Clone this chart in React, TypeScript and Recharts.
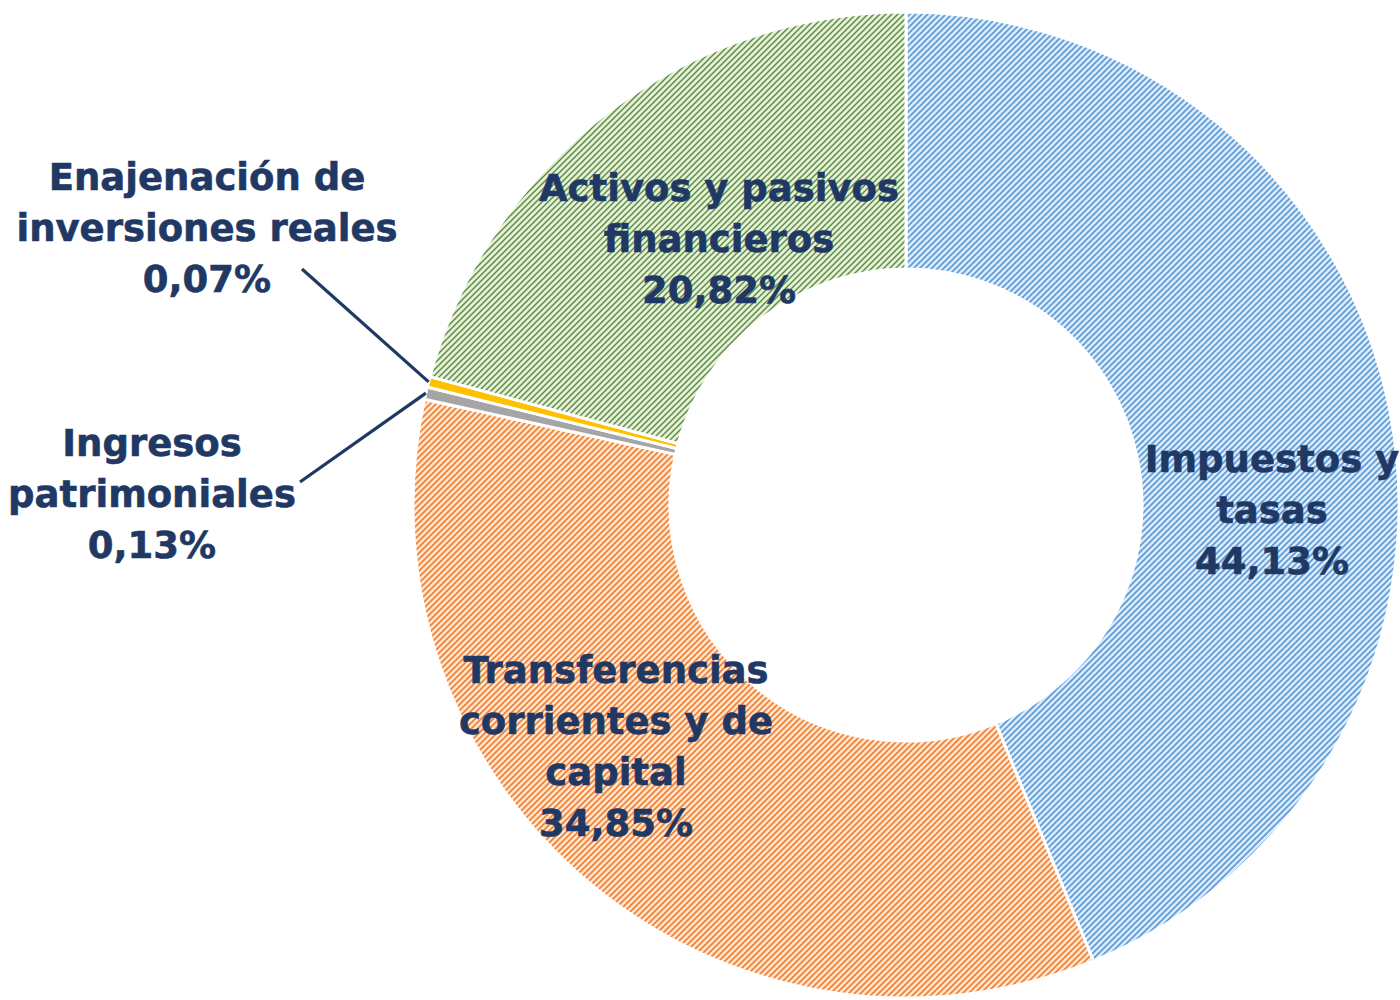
import React from "react";
import { PieChart, Pie, Cell } from "recharts";

const categories = [
  "Impuestos y\ntasas",
  "Transferencias\ncorrientes y de\ncapital",
  "Ingresos\npatrimoniales",
  "Enajenación de\ninversiones reales",
  "Activos y pasivos\nfinancieros",
];
const values = [44.13, 34.85, 0.13, 0.07, 20.82];

const fills = ["url(#pBlue)", "url(#pOrange)", "#a5a5a5", "#ffc000", "url(#pGreen)"];

// label block centres relative to the pie centre, plus optional leader line start
const labelLayout = [
  { dx: 366, dy: 5, leader: null as null | { x: number; y: number } },
  { dx: -290, dy: 242, leader: null },
  { dx: -754, dy: -11, leader: { x: -606, y: -23 } },
  { dx: -699, dy: -277, leader: { x: -604, y: -236 } },
  { dx: -187, dy: -266, leader: null },
];

const data = categories.map((name, i) => ({ name, value: values[i] }));

const TEXT = "#1f3864";
const LINE_H = 51;
const RADIAN = Math.PI / 180;

const fmt = (v: number) => v.toFixed(2).replace(".", ",") + "%";

const renderLabel = (props: any) => {
  const { cx, cy, midAngle, outerRadius, index } = props;
  const lay = labelLayout[index];
  const lines = [...categories[index].split("\n"), fmt(values[index])];
  const bx = cx + lay.dx;
  const by = cy + lay.dy;
  const top = by - ((lines.length - 1) * LINE_H) / 2;
  let leader = null;
  if (lay.leader) {
    const ex = cx + outerRadius * Math.cos(-midAngle * RADIAN);
    const ey = cy + outerRadius * Math.sin(-midAngle * RADIAN);
    leader = (
      <line
        x1={cx + lay.leader.x}
        y1={cy + lay.leader.y}
        x2={ex}
        y2={ey}
        stroke={TEXT}
        strokeWidth={3.2}
      />
    );
  }
  return (
    <g key={`lbl-${index}`}>
      {leader}
      <text
        x={bx}
        y={top}
        textAnchor="middle"
        fill={TEXT}
        stroke={TEXT}
        strokeWidth={0.6}
        fontFamily="'DejaVu Sans', sans-serif"
        fontWeight="bold"
        fontSize={37}
      >
        {lines.map((l, k) => (
          <tspan key={k} x={bx} y={top + k * LINE_H} dominantBaseline="central">
            {l}
          </tspan>
        ))}
      </text>
    </g>
  );
};

function Patterns() {
  const mk = (id: string, bg: string, fg: string, w: number) => (
    <pattern id={id} patternUnits="userSpaceOnUse" width={6} height={6}>
      <rect width={6} height={6} fill={bg} />
      <path d="M-1,1 L1,-1 M0,6 L6,0 M5,7 L7,5" stroke={fg} strokeWidth={w} />
    </pattern>
  );
  return (
    <svg width={0} height={0} style={{ position: "absolute" }}>
      <defs>
        {mk("pBlue", "#deeaf8", "#5b9bd5", 1.6)}
        {mk("pOrange", "#fde6d5", "#f07f2f", 1.6)}
        {mk("pGreen", "#e4f0dc", "#5a8a36", 1.4)}
      </defs>
    </svg>
  );
}

export default function App() {
  return (
    <div style={{ position: "absolute", left: 0, top: 0, width: 1400, height: 1000, background: "#fff" }}>
      <Patterns />
      <PieChart width={1400} height={1000} margin={{ top: 0, right: 0, bottom: 0, left: 0 }}>
        <Pie
          data={data}
          dataKey="value"
          nameKey="name"
          cx={906}
          cy={505}
          innerRadius={236}
          outerRadius={493}
          startAngle={90}
          endAngle={-270}
          minAngle={1}
          stroke="#ffffff"
          strokeWidth={3}
          label={renderLabel}
          labelLine={false}
          isAnimationActive={false}
        >
          {data.map((d, i) => (
            <Cell key={d.name} fill={fills[i]} />
          ))}
        </Pie>
      </PieChart>
    </div>
  );
}
